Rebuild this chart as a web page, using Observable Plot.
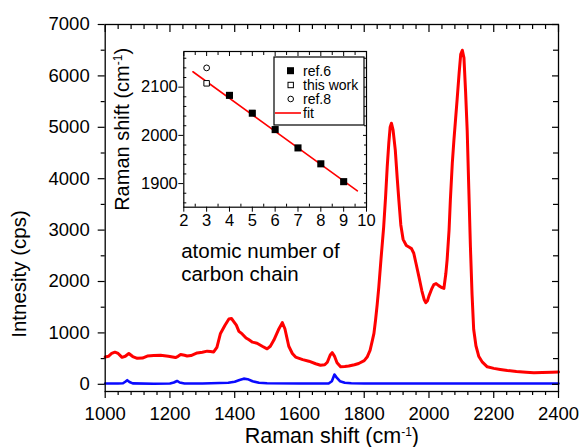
<!DOCTYPE html>
<html><head><meta charset="utf-8">
<script src="https://cdn.jsdelivr.net/npm/d3@7"></script>
<script src="https://cdn.jsdelivr.net/npm/@observablehq/plot@0.6"></script>
<style>
body{margin:0;background:#fff;}
#chart{position:relative;width:582px;height:447px;font-family:"Liberation Sans",Arial,sans-serif;}
#chart svg{position:absolute;overflow:visible;}
</style></head><body><div id="chart"></div>
<script>
// ---- main spectra ----
const redShift = [1000,1010,1020,1030,1040,1052,1062,1073,1085,1099,1115,1130,1150,1171,1195,1217,1225,1233,1245,1253,1265,1284,1300,1315,1325,1335,1345,1356,1370,1382,1390,1397,1405,1413,1423,1435,1443,1455,1469,1485,1500,1510,1521,1535,1547,1555,1567,1578,1588,1610,1629,1650,1665,1678,1686,1695,1701,1708,1716,1727,1740,1752,1770,1783,1800,1809,1818,1825,1830,1835,1840,1845,1852,1860,1866,1871,1876,1880,1884,1889,1896,1902,1907,1913,1920,1930,1938,1946,1953,1960,1969,1978,1985,1990,1995,2000,2008,2015,2022,2030,2040,2046,2052,2056,2062,2066,2072,2077,2082,2087,2093,2098,2103,2108,2113,2118,2123,2128,2133,2138,2145,2154,2165,2180,2200,2220,2242,2270,2300,2324,2350,2380,2400];
const redIntensity = [530,545,600,625,600,525,545,600,540,505,510,550,560,565,545,520,545,580,565,550,560,610,625,645,640,630,720,990,1150,1270,1280,1220,1150,1030,980,900,870,820,800,740,690,740,860,1060,1200,1080,740,600,530,480,450,400,370,380,430,570,615,550,420,340,345,355,380,405,460,530,660,850,990,1250,1550,1890,2450,3060,3650,4230,4700,5000,5080,4950,4550,4000,3580,3100,2820,2700,2670,2640,2550,2350,2090,1820,1650,1590,1620,1720,1850,1940,1960,1920,1880,1865,2150,2420,3000,3580,4300,4750,5150,5550,6050,6420,6500,6350,5700,4940,3800,2670,1750,1070,750,540,430,340,310,290,270,250,235,225,230,235,240];
const blueShift = [1000,1040,1055,1062,1068,1075,1085,1150,1200,1212,1222,1230,1245,1300,1380,1400,1415,1428,1440,1455,1475,1500,1600,1690,1700,1708,1715,1725,1740,1760,1800,2400];
const blueIntensity = [15,15,20,50,80,45,18,12,15,35,65,35,15,15,30,50,85,110,100,60,30,20,15,15,60,190,130,60,30,20,15,15];
const xTicks = [1000,1200,1400,1600,1800,2000,2200,2400];
const yTicks = [0,1000,2000,3000,4000,5000,6000,7000];
const xMinorTicks = d3.range(1040, 2400, 40).filter(v => (v - 1000) % 200 !== 0);
const yMinorTicks = [500,1500,2500,3500,4500,5500,6500];

// ---- inset ----
const ref6Atoms = [4,5,6,7,8,9];
const ref6Shift = [2083,2046,2012,1974,1941,1904];
const thisWorkAtoms = [3];
const thisWorkShift = [2108];
const ref8Atoms = [3];
const ref8Shift = [2140];
const fitAtoms = [2.4, 9.6];
const fitShift = [2132, 1885];
const insetXTicks = [2,3,4,5,6,7,8,9,10];
const insetXMinor = [2.5,3.5,4.5,5.5,6.5,7.5,8.5,9.5];
const insetYTicks = [1900,2000,2100];
const insetYMinor = [1860,1880,1920,1940,1960,1980,2020,2040,2060,2080,2120,2140,2160];
const legendLabels = ["ref.6","this work","ref.8","fit"];

const FONT = '"Liberation Sans", Arial, sans-serif';
const zip = (a, b) => a.map((x, i) => ({x, y: b[i]}));
const none = () => "";

const main = Plot.plot({
  width: 582, height: 447,
  marginLeft: 104.7, marginRight: 24, marginTop: 24, marginBottom: 56,
  x: {domain: [1000, 2400], label: null},
  y: {domain: [-140, 7000], label: null},
  style: {fontFamily: FONT, fontSize: "18px", background: "transparent", color: "#000"},
  marks: [
    Plot.line(zip(blueShift, blueIntensity), {x: "x", y: "y", stroke: "#0a0aff", strokeWidth: 2.6}),
    Plot.line(zip(redShift, redIntensity), {x: "x", y: "y", stroke: "#ff0000", strokeWidth: 3}),
    Plot.frame({stroke: "#000", strokeWidth: 1.3}),
    Plot.axisX(xTicks, {anchor: "bottom", tickSize: 7, tickPadding: 8, fontSize: 18.5, label: null, tickFormat: d => String(d), strokeWidth: 1.2}),
    Plot.axisX(xMinorTicks, {anchor: "bottom", tickSize: 4, tickFormat: none, label: null, strokeWidth: 1.2}),
    Plot.axisX(xTicks, {anchor: "top", tickSize: 7, dy: 7, tickFormat: none, label: null, strokeWidth: 1.2}),
    Plot.axisX(xMinorTicks, {anchor: "top", tickSize: 4, dy: 4, tickFormat: none, label: null, strokeWidth: 1.2}),
    Plot.axisY(yTicks, {anchor: "left", tickSize: 7, tickPadding: 8.5, fontSize: 18.5, label: null, tickFormat: d => String(d), strokeWidth: 1.2}),
    Plot.axisY(yMinorTicks, {anchor: "left", tickSize: 4, tickFormat: none, label: null, strokeWidth: 1.2}),
    Plot.axisY(yTicks, {anchor: "right", tickSize: 7, dx: -7, tickFormat: none, label: null, strokeWidth: 1.2}),
    Plot.axisY(yMinorTicks, {anchor: "right", tickSize: 6, dx: -6, tickFormat: none, label: null, strokeWidth: 1.2}),
    Plot.text(["Raman shift (cm-1)"], {text: d => d, frameAnchor: "bottom", textAnchor: "middle", dy: 45, fontSize: 21.5, lineAnchor: "middle"}),
    Plot.text(["Intnesity (cps)"], {text: d => d, frameAnchor: "left", textAnchor: "middle", lineAnchor: "middle", rotate: -90, dx: -86, dy: 66, fontSize: 20.5})
  ]
});
main.style.left = "0px"; main.style.top = "0px";

const inset = Plot.plot({
  width: 280, height: 250,
  marginLeft: 83.3, marginRight: 14, marginTop: 11, marginBottom: 83.3,
  x: {domain: [2, 10], label: null},
  y: {domain: [1851, 2174], label: null},
  style: {fontFamily: FONT, fontSize: "16px", background: "transparent", color: "#000"},
  marks: [
    Plot.line(zip(fitAtoms, fitShift), {x: "x", y: "y", stroke: "#ff0000", strokeWidth: 1.6}),
    Plot.dot(zip(ref8Atoms, ref8Shift), {x: "x", y: "y", r: 2.9, stroke: "#000", fill: "#fff", strokeWidth: 1}),
    Plot.dot(zip(thisWorkAtoms, thisWorkShift), {x: "x", y: "y", symbol: "square", r: 3.1, stroke: "#000", fill: "#fff", strokeWidth: 1}),
    Plot.dot(zip(ref6Atoms, ref6Shift), {x: "x", y: "y", symbol: "square", r: 4, fill: "#000", stroke: "none"}),
    Plot.frame({stroke: "#000", strokeWidth: 1.2}),
    Plot.axisX(insetXTicks, {anchor: "bottom", tickSize: 5, tickPadding: 2, fontSize: 16.5, label: null, tickFormat: d => String(d)}),
    Plot.axisX(insetXMinor, {anchor: "bottom", tickSize: 3, dy: -3, tickFormat: none, label: null}),
    Plot.axisX(insetXTicks, {anchor: "top", tickSize: 4, dy: 4, tickFormat: none, label: null}),
    Plot.axisX(insetXMinor, {anchor: "top", tickSize: 3, dy: 3, tickFormat: none, label: null}),
    Plot.axisY(insetYTicks, {anchor: "left", tickSize: 5, tickPadding: 1, fontSize: 16.5, label: null, tickFormat: d => String(d)}),
    Plot.axisY(insetYMinor, {anchor: "left", tickSize: 3, dx: 3, tickFormat: none, label: null}),
    Plot.axisY(insetYTicks, {anchor: "right", tickSize: 4, dx: -4, tickFormat: none, label: null}),
    Plot.axisY(insetYMinor, {anchor: "right", tickSize: 3, dx: -3, tickFormat: none, label: null}),
    Plot.text(["atomic number of\ncarbon chain"], {text: d => d, frameAnchor: "bottom-left", textAnchor: "start", lineAnchor: "top", dx: -2.6, dy: 34, fontSize: 20.5, lineHeight: 1.14}),
    Plot.text(["Raman shift (cm-1)"], {text: d => d, frameAnchor: "left", textAnchor: "middle", lineAnchor: "middle", rotate: -90, dx: -61, fontSize: 20})
  ]
});
inset.style.left = "100px"; inset.style.top = "40px";

const chart = document.getElementById("chart");
chart.append(main, inset);

// superscripts
d3.select(chart).selectAll("text").each(function () {
  if (this.textContent === "Raman shift (cm-1)") {
    const t = d3.select(this);
    t.text(null);
    t.append("tspan").text("Raman shift (cm");
    t.append("tspan").attr("dy", -7).attr("font-size", 12).text("-1");
    t.append("tspan").attr("dy", 7).text(")");
  }
});

// legend box for inset
const leg = d3.select(chart).append("svg")
  .attr("width", 582).attr("height", 447)
  .style("left", "0px").style("top", "0px")
  .attr("font-family", FONT).attr("font-size", 14);
leg.append("rect").attr("x", 274).attr("y", 57).attr("width", 90).attr("height", 68)
  .attr("fill", "#fff").attr("stroke", "#000").attr("stroke-width", 1.2);
const rowY = [70.7, 85, 99, 113];
legendLabels.forEach((lab, i) => {
  const y = rowY[i];
  if (i === 0) leg.append("rect").attr("x", 287).attr("y", y - 3.5).attr("width", 7).attr("height", 7).attr("fill", "#000");
  if (i === 1) leg.append("rect").attr("x", 288).attr("y", y - 2.7).attr("width", 5.4).attr("height", 5.4).attr("fill", "#fff").attr("stroke", "#000");
  if (i === 2) leg.append("circle").attr("cx", 290.7).attr("cy", y).attr("r", 2.8).attr("fill", "#fff").attr("stroke", "#000");
  if (i === 3) leg.append("line").attr("x1", 275).attr("x2", 301).attr("y1", y).attr("y2", y).attr("stroke", "#ff0000").attr("stroke-width", 1.6);
  leg.append("text").attr("x", 303).attr("y", y).attr("dy", "0.35em").text(lab);
});
</script></body></html>
